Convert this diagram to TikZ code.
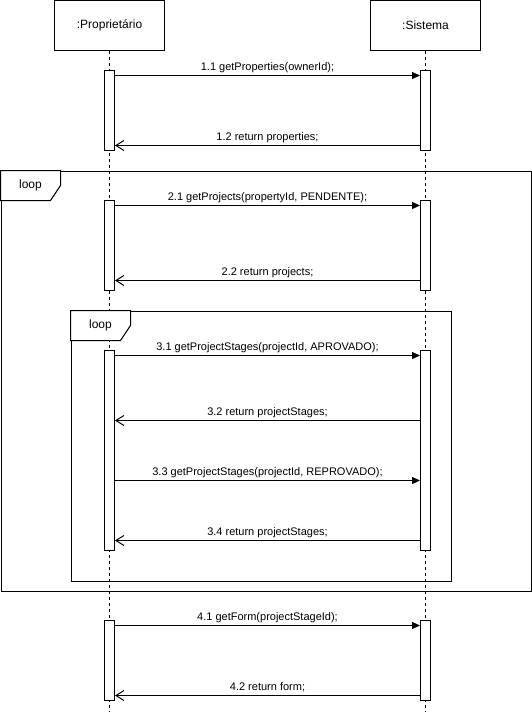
\documentclass[tikz,border=0pt]{standalone}
\usepackage{fontspec}
\setmainfont{Liberation Sans}
\usetikzlibrary{arrows.meta}
\begin{document}
\begin{tikzpicture}[x=1pt,y=-1pt,line width=1pt,
  participant/.style={draw,fill=white,minimum width=110pt,minimum height=50pt,inner sep=0pt,font=\fontsize{12}{14}\selectfont},
  activation/.style={draw,fill=white,minimum width=10pt,inner sep=0pt},
  lifeline/.style={dash pattern=on 3pt off 3pt},
  call/.style={-{Triangle[length=8pt,width=7pt]}},
  reply/.style={-{Straight Barb[length=8pt,width=10pt]}},
  msg/.style={font=\fontsize{11}{13}\selectfont,anchor=base,inner sep=0pt,yshift=5pt},
  fragment/.style={draw,inner sep=0pt,anchor=north west},
  fraglabel/.style={font=\fontsize{12}{14}\selectfont,inner sep=0pt}
]
\useasboundingbox (0,0) rectangle (532,712);

% combined fragments (loops)
\node[fragment,minimum width=530pt,minimum height=420pt] (outer) at (0.5,170.5) {};
\node[fragment,minimum width=380pt,minimum height=270pt] (inner) at (70.5,310.5) {};

% participants and lifelines
\node[participant] (prop) at (109.5,25.5) {:Proprietário};
\node[participant] (sis) at (425.5,25.5) {:Sistema};
\coordinate (propEnd) at (109.5,712);
\coordinate (sisEnd) at (425.5,712);
\draw[lifeline] (prop.south) -- (propEnd);
\draw[lifeline] (sis.south) -- (sisEnd);

% loop labels
\draw[fill=white,shift={(outer.north west)}] (0,0) -- (60,0) -- (60,15) -- (50,30) -- (0,30) -- cycle;
\node[fraglabel] (outerLbl) at ([shift={(30,15)}]outer.north west) {loop};
\draw[fill=white,shift={(inner.north west)}] (0,0) -- (60,0) -- (60,15) -- (50,30) -- (0,30) -- cycle;
\node[fraglabel] (innerLbl) at ([shift={(30,15)}]inner.north west) {loop};

% activation bars
\node[activation,minimum height=80pt] (pa1) at (109.5,110.5) {};
\node[activation,minimum height=80pt] (sa1) at (425.5,110.5) {};
\node[activation,minimum height=90pt] (pa2) at (109.5,245.5) {};
\node[activation,minimum height=90pt] (sa2) at (425.5,245.5) {};
\node[activation,minimum height=200pt] (pa3) at (109.5,450.5) {};
\node[activation,minimum height=200pt] (sa3) at (425.5,450.5) {};
\node[activation,minimum height=80pt] (pa4) at (109.5,660.5) {};
\node[activation,minimum height=80pt] (sa4) at (425.5,660.5) {};

% messages
\draw[call] (pa1.east |- 0,75.5) -- (sa1.west |- 0,75.5) node[msg,midway] (m11) {1.1 getProperties(ownerId);};
\draw[reply] (sa1.west |- 0,145.5) -- (pa1.east |- 0,145.5) node[msg,midway] (m12) {1.2 return properties;};
\draw[call] (pa2.east |- 0,205.5) -- (sa2.west |- 0,205.5) node[msg,midway] (m21) {2.1 getProjects(propertyId, PENDENTE);};
\draw[reply] (sa2.west |- 0,280.5) -- (pa2.east |- 0,280.5) node[msg,midway] (m22) {2.2 return projects;};
\draw[call] (pa3.east |- 0,355.5) -- (sa3.west |- 0,355.5) node[msg,midway] (m31) {3.1 getProjectStages(projectId, APROVADO);};
\draw[reply] (sa3.west |- 0,420.5) -- (pa3.east |- 0,420.5) node[msg,midway] (m32) {3.2 return projectStages;};
\draw[call] (pa3.east |- 0,480.5) -- (sa3.west |- 0,480.5) node[msg,midway] (m33) {3.3 getProjectStages(projectId, REPROVADO);};
\draw[reply] (sa3.west |- 0,540.5) -- (pa3.east |- 0,540.5) node[msg,midway] (m34) {3.4 return projectStages;};
\draw[call] (pa4.east |- 0,625.5) -- (sa4.west |- 0,625.5) node[msg,midway] (m41) {4.1 getForm(projectStageId);};
\draw[reply] (sa4.west |- 0,695.5) -- (pa4.east |- 0,695.5) node[msg,midway] (m42) {4.2 return form;};
\end{tikzpicture}
\end{document}
